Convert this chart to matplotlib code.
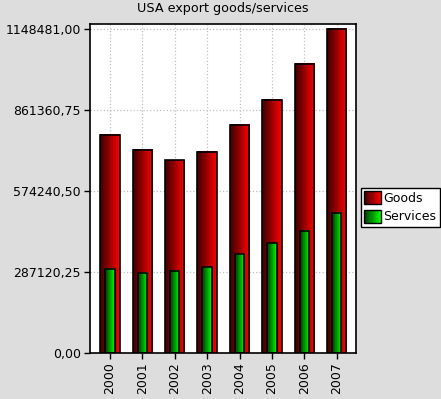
import numpy as np
import matplotlib
matplotlib.use("Agg")
import matplotlib.pyplot as plt
from matplotlib.patches import Rectangle
from matplotlib.legend_handler import HandlerBase
from matplotlib.colors import LinearSegmentedColormap

years = ['2000', '2001', '2002', '2003', '2004', '2005', '2006', '2007']
goods = [773800, 719600, 684100, 712500, 808200, 896800, 1025500, 1148481]
services = [298000, 283600, 290700, 304800, 350900, 389900, 432500, 496300]

red_cmap = LinearSegmentedColormap.from_list('red', ['#3c0000', '#ff0000'])
green_cmap = LinearSegmentedColormap.from_list('green', ['#003800', '#00ff00'])


def gradient_bars(ax, x, heights, width, cmap, label):
    bars = ax.bar(x, heights, width, facecolor='none', edgecolor='black',
                  linewidth=1.2, zorder=4, label=label)
    grad = np.linspace(0, 1, 64).reshape(1, -1)
    for b in bars:
        x0, y0 = b.get_x(), b.get_y()
        ax.imshow(grad, cmap=cmap, aspect='auto', interpolation='bicubic',
                  extent=(x0, x0 + b.get_width(), y0, y0 + b.get_height()),
                  zorder=3)
    return bars


class GradientHandler(HandlerBase):
    def __init__(self, cmap):
        super().__init__()
        self.cmap = cmap

    def create_artists(self, legend, orig_handle, xdescent, ydescent,
                       width, height, fontsize, trans):
        artists = []
        n = 16
        for i in range(n):
            r = Rectangle((-xdescent + width * i / n, -ydescent), width / n + 0.3,
                          height, facecolor=self.cmap(i / (n - 1)),
                          edgecolor='none', transform=trans)
            artists.append(r)
        artists.append(Rectangle((-xdescent, -ydescent), width, height,
                                 facecolor='none', edgecolor='black',
                                 linewidth=1, transform=trans))
        return artists


fig = plt.figure(figsize=(4.41, 3.99), dpi=100, facecolor='#dddddd')
ax = fig.add_axes([90 / 441, 1 - 353.3 / 399, 266 / 441, 329 / 399])
ax.set_facecolor('white')

x = np.arange(len(years))
g = gradient_bars(ax, x, goods, 0.6, red_cmap, 'Goods')
s = gradient_bars(ax, x, services, 0.29, green_cmap, 'Services')

ymax = max(goods)
ax.set_xlim(-0.62, 7.6)
ax.set_ylim(0, ymax * 1.0154)
ticks = [ymax * i / 4 for i in range(5)]
ax.set_yticks(ticks)
ax.set_yticklabels([f"{t:.2f}".replace('.', ',') for t in ticks])
ax.set_xticks(x)
ax.set_xticklabels(years, rotation=90)
ax.tick_params(axis='both', direction='out', length=4, width=1,
               labelsize=9, color='black', pad=2.5)
ax.grid(True, color='#c0c0c0', linestyle=':', linewidth=0.9, zorder=1)
ax.set_axisbelow(True)
for sp in ax.spines.values():
    sp.set_linewidth(1.2)

ax.set_title('USA export goods/services', fontsize=9.2, pad=8.5)

fig.legend([g, s], ['Goods', 'Services'],
           handler_map={g: GradientHandler(red_cmap), s: GradientHandler(green_cmap)},
           loc='upper left', bbox_to_anchor=(361 / 441, 1 - 188 / 399),
           fontsize=9, frameon=True, fancybox=False, edgecolor='black',
           facecolor='white', framealpha=1, borderpad=0.25, handlelength=1.35,
           handleheight=1.2, handletextpad=0.2, labelspacing=0.4,
           borderaxespad=0)

fig.savefig('out.png', dpi=100, facecolor=fig.get_facecolor())
